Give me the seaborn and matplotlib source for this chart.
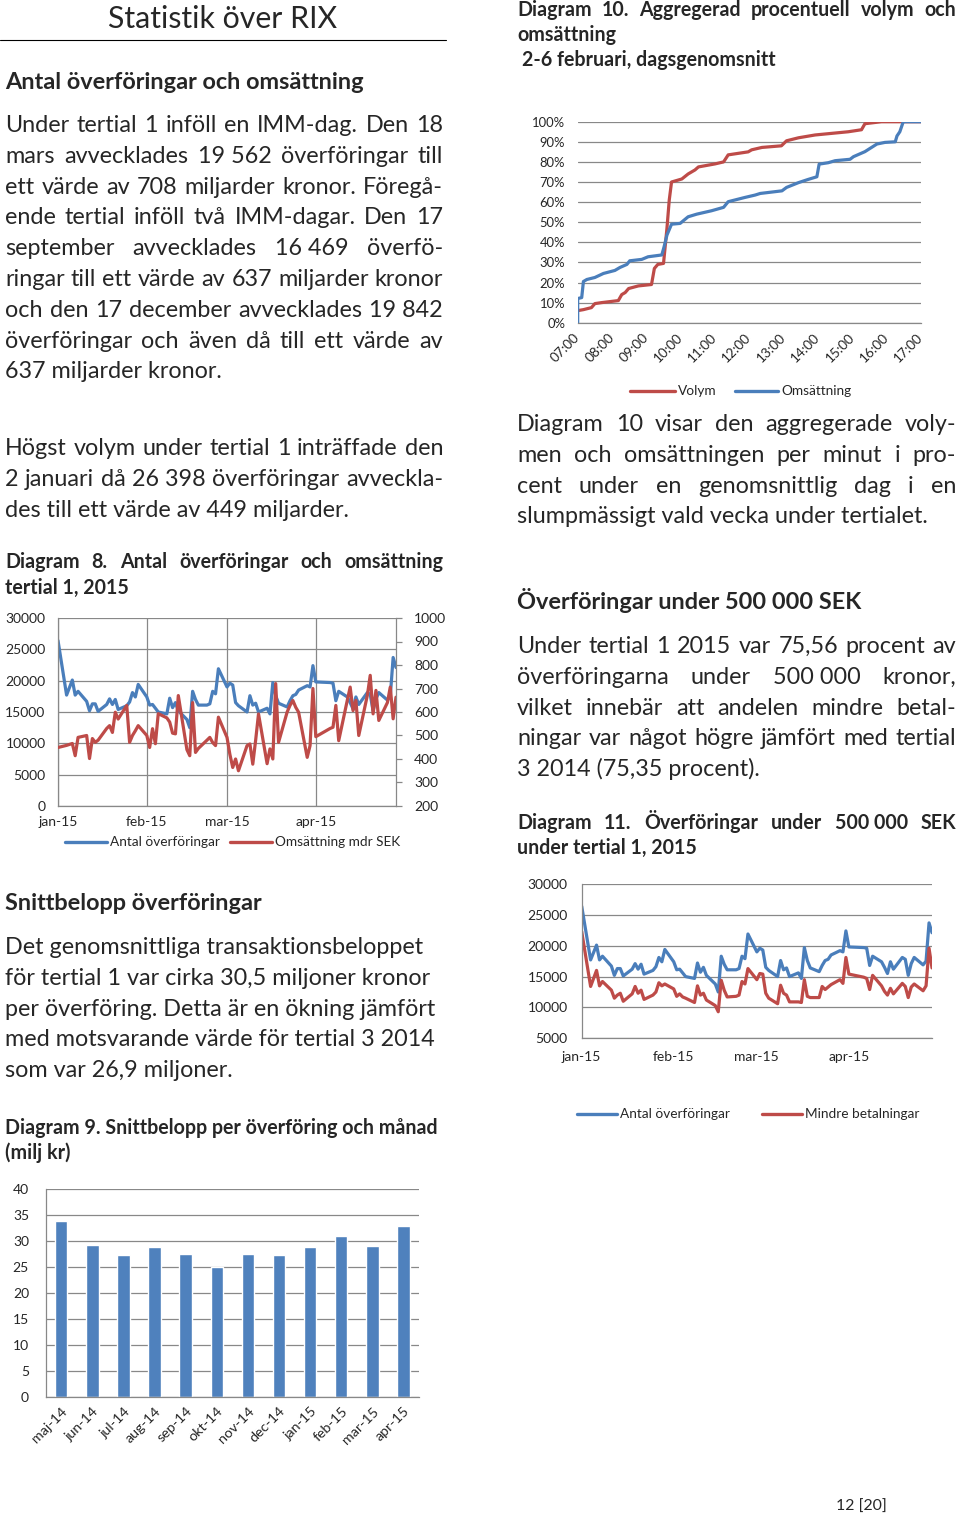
import numpy as np
import pandas as pd
import matplotlib
matplotlib.use('Agg')
import matplotlib.pyplot as plt
import seaborn as sns
from matplotlib.lines import Line2D
from matplotlib.ticker import FuncFormatter

# ---- data ----
# bankdagar jan-apr 2015 (RIX stängt 6/1, 3/4, 6/4)
dagar = pd.bdate_range('2015-01-02', '2015-04-30', freq='C',
                       holidays=['2015-01-06', '2015-04-03', '2015-04-06'])

antal = [26400, 17700, 20100, 17700, 18300, 16700, 15200, 16300, 16300, 15100,
         16200, 17100, 16200, 17000, 15400, 16000, 16600, 18100, 17400, 19400,
         17400, 16100, 16200, 15600, 15000, 14700, 17200, 15700, 16500, 15200,
         13800, 12500, 18300, 17000, 16100, 16100, 16300, 18300, 17900, 21900,
         19000, 19600, 19300, 16500, 16000, 15000, 17600, 16100, 16400, 15000,
         15600, 14700, 19700, 17600, 16400, 15800, 16800, 17600, 17800, 18500,
         19200, 19000,
         22400, 19800, 19700, 19600, 16800, 18300, 17400, 16500, 15500, 17400,
         16200, 18100, 17800, 15200, 17100, 18100, 16900, 17500, 23700, 22100]

omsattning = [449, 458, 466, 414, 492, 500, 402, 487, 471, 480,
              530, 542, 513, 599, 570, 628, 471, 500, 520, 542,
              500, 449, 529, 465, 593, 575, 557, 510, 507, 670,
              440, 414, 640, 428, 445, 480, 492, 470, 457, 578,
              492, 420, 364, 400, 350, 457, 464, 378, 480, 592,
              380, 443, 400, 721, 471, 600, 628, 649, 620, 599,
              407, 457,
              700, 495, 530, 535, 628, 478, 650, 706, 606, 649,
              500, 671, 756, 592, 692, 564, 640, 706, 571, 663]

mindre = [22300, 13400, 16000, 13500, 14200, 12800, 11500, 12000, 12300, 11000,
          12200, 13400, 12300, 12800, 11300, 12000, 12500, 14000, 13500, 13800,
          13000, 11800, 12200, 11700, 11500, 10800, 13500, 12000, 12300, 11200,
          10300, 9300, 14400, 12800, 11700, 11800, 12000, 14200, 13800, 16300,
          14500, 15500, 15400, 12300, 11500, 10600, 13600, 12300, 12000, 10900,
          10900, 10800, 14500, 11800, 11600, 11600, 13400, 12900, 13300, 13700,
          14500, 13900,
          18100, 15400, 14900, 14700, 12900, 15200, 13500, 12600, 12000, 13100,
          12200, 13900, 13400, 11600, 13300, 13800, 12700, 13500, 19600, 16400]

manader = ['maj-14', 'jun-14', 'jul-14', 'aug-14', 'sep-14', 'okt-14',
           'nov-14', 'dec-14', 'jan-15', 'feb-15', 'mar-15', 'apr-15']
snittbelopp = [33.9, 29.3, 27.3, 28.8, 27.6, 25.0, 27.6, 27.3, 28.8, 31.0, 29.1, 32.9]

# diagram 10: minuter efter 07:00 och kumulativ andel (%)
volym_min = [0, 10, 24, 30, 42, 71, 77, 83, 89, 106, 129, 134, 140, 150, 156, 160,
             164, 182, 193, 205, 211, 240, 255, 263, 298, 304, 322, 356, 365, 386,
             415, 444, 473, 496, 502, 531, 600]
volym_pct = [6, 6.5, 7.5, 9.5, 10, 11, 14, 15, 17, 18.3, 19, 27, 29, 29.5, 47, 61,
             70, 71.5, 74, 76, 77.5, 79, 80, 83.5, 85, 86, 87.2, 88, 90.5, 92,
             93.4, 94.2, 95, 96, 99, 100, 100]
oms_min = [0, 0, 7, 10, 16, 30, 45, 65, 74, 86, 91, 112, 123, 147, 151, 156, 164,
           179, 193, 208, 234, 255, 263, 292, 310, 319, 357, 365, 386, 403, 418,
           422, 438, 450, 476, 482, 502, 523, 537, 555, 558, 563, 569, 600]
oms_pct = [0, 12, 12.5, 20.5, 21.5, 22.5, 24.5, 26, 27.5, 29, 30.8, 31.5, 32.8,
           33.7, 37.8, 43.6, 49, 49.4, 52.7, 54, 55.7, 57.4, 60.2, 62.3, 63.5,
           64.3, 65.6, 67.3, 69.7, 71.3, 72.6, 78.9, 79.6, 80.6, 81.3, 82.6, 85.1,
           88.9, 89.7, 90, 92.9, 95, 100, 100]
klockslag = ['07:00', '08:00', '09:00', '10:00', '11:00', '12:00',
             '13:00', '14:00', '15:00', '16:00', '17:00']
datum_etiketter = ['jan-15', 'feb-15', 'mar-15', 'apr-15']

BLUE = '#4A7EBB'
RED = '#BE4B48'
BAR = '#4F81BD'
GRID = '#888888'

sns.set_theme(style='white')
plt.rcParams['font.family'] = ['Lato', 'DejaVu Sans']

W, H = 960, 1517
fig = plt.figure(figsize=(W / 100, H / 100), dpi=100)
fig.patch.set_facecolor('white')
rend = fig.canvas.get_renderer()


def fx(x):
    return x / W


def fy(y):
    return 1 - y / H


def box(x0, y0, x1, y1):
    return fig.add_axes([fx(x0), fy(y1), (x1 - x0) / W, (y1 - y0) / H])


def rad(x0, x1, y, text, just=True, **kw):
    # en rad text, marginaljusterad om just=True ('~' = hårt mellanslag)
    words = text.split(' ')
    if not just or len(words) == 1:
        fig.text(fx(x0), fy(y), text.replace('~', ' '), va='baseline', **kw)
        return
    arts = [fig.text(0, fy(y), w.replace('~', ' '), va='baseline', **kw) for w in words]
    ws = [a.get_window_extent(rend).width for a in arts]
    gap = (x1 - x0 - sum(ws)) / (len(words) - 1)
    x = x0
    for a, w in zip(arts, ws):
        a.set_x(fx(x))
        x += w + gap


def stycke(x0, x1, y0, step, lines, just=True, **kw):
    for i, t in enumerate(lines):
        last = i == len(lines) - 1
        rad(x0, x1, y0 + i * step, t, just=(just and not last), **kw)


def leg(x0, y, label, color, ln=42):
    fig.add_artist(Line2D([fx(x0), fx(x0 + ln)], [fy(y), fy(y)], color=color, lw=2.4,
                          transform=fig.transFigure))
    fig.text(fx(x0 + ln + 3), fy(y), label, va='center', fontsize=9.8)


BODY = 16.8
HEAD = 16.9
CAP = 14.1
TICK = 10

# ---- vänster spalt, text ----
fig.text(fx(223), fy(28.5), 'Statistik över RIX', ha='center', va='baseline', fontsize=21.8)
fig.add_artist(Line2D([0, fx(446)], [fy(39.5), fy(39.5)], color='black', lw=0.8,
                      transform=fig.transFigure))
rad(5, 443, 89, 'Antal överföringar och omsättning', just=False, fontsize=HEAD, fontweight='bold')
stycke(5, 443, 132, 30.8, [
    'Under tertial 1 inföll en IMM-dag. Den 18',
    'mars avvecklades 19~562 överföringar till',
    'ett värde av 708 miljarder kronor. Föregå-',
    'ende tertial inföll två IMM-dagar. Den 17',
    'september avvecklades 16~469 överfö-',
    'ringar till ett värde av 637 miljarder kronor',
    'och den 17 december avvecklades 19~842',
    'överföringar och även då till ett värde av',
    '637 miljarder kronor.'], fontsize=BODY)
stycke(5, 443, 455, 30.8, [
    'Högst volym under tertial 1 inträffade den',
    '2 januari då 26~398 överföringar avveckla-',
    'des till ett värde av 449 miljarder.'], fontsize=BODY)
stycke(5, 443, 568.5, 25, [
    'Diagram 8. Antal överföringar och omsättning',
    'tertial 1, 2015'], fontsize=CAP, fontweight='bold')
rad(5, 443, 909.5, 'Snittbelopp överföringar', just=False, fontsize=HEAD, fontweight='bold')
stycke(5, 443, 954, 30.8, [
    'Det genomsnittliga transaktionsbeloppet',
    'för tertial 1 var cirka 30,5 miljoner kronor',
    'per överföring. Detta är en ökning jämfört',
    'med motsvarande värde för tertial 3 2014',
    'som var 26,9 miljoner.'], just=False, fontsize=BODY)
stycke(5, 443, 1134, 25, [
    'Diagram 9. Snittbelopp per överföring och månad',
    '(milj kr)'], just=False, fontsize=CAP, fontweight='bold')

# ---- höger spalt, text ----
stycke(517, 956, 16, 25, [
    'Diagram 10. Aggregerad procentuell volym och',
    'omsättning'], fontsize=CAP, fontweight='bold')
rad(522, 956, 66, '2-6 februari, dagsgenomsnitt', just=False, fontsize=CAP, fontweight='bold')
stycke(517, 956, 431, 30.8, [
    'Diagram 10 visar den aggregerade voly-',
    'men och omsättningen per minut i pro-',
    'cent under en genomsnittlig dag i en',
    'slumpmässigt vald vecka under tertialet.'], fontsize=BODY)
rad(517, 956, 608.5, 'Överföringar under 500~000 SEK', just=False, fontsize=HEAD, fontweight='bold')
stycke(517, 956, 653, 30.8, [
    'Under tertial 1 2015 var 75,56 procent av',
    'överföringarna under 500~000 kronor,',
    'vilket innebär att andelen mindre betal-',
    'ningar var något högre jämfört med tertial',
    '3 2014 (75,35 procent).'], fontsize=BODY)
stycke(517, 956, 829, 25, [
    'Diagram 11. Överföringar under 500~000 SEK',
    'under tertial 1, 2015'], fontsize=CAP, fontweight='bold')
fig.text(fx(836), fy(1511), '12 [20]', va='baseline', fontsize=11.4)

start, slut = pd.Timestamp('2015-01-02'), pd.Timestamp('2015-04-30')
mticks = [pd.Timestamp('2015-01-02'), pd.Timestamp('2015-02-02'),
          pd.Timestamp('2015-03-02'), pd.Timestamp('2015-04-02')]


def grastil(ax, spines):
    for s in ['left', 'right', 'top', 'bottom']:
        ax.spines[s].set_visible(s in spines)
        ax.spines[s].set_color(GRID)
        ax.spines[s].set_linewidth(0.9)
    ax.set_xlabel('')
    ax.set_ylabel('')


# ---- diagram 8 ----
df8 = pd.DataFrame({'dag': dagar, 'antal': antal, 'oms': omsattning})
ax8 = box(58, 618, 396, 806)
sns.lineplot(data=df8, x='dag', y='antal', ax=ax8, color=BLUE, lw=2.3,
             estimator=None, sort=False)
ax8.set_xlim(start, slut)
ax8.set_ylim(0, 30000)
ax8.set_yticks(range(0, 30001, 5000))
ax8.set_xticks(mticks)
ax8.set_xticklabels(datum_etiketter)
ax8.grid(True, color=GRID, lw=0.9)
ax8.tick_params(axis='y', length=0, pad=9, labelsize=TICK)
ax8.tick_params(axis='x', length=0, pad=7, labelsize=TICK)
grastil(ax8, ['left', 'bottom'])
ax8r = ax8.twinx()
sns.lineplot(data=df8, x='dag', y='oms', ax=ax8r, color=RED, lw=2.3,
             estimator=None, sort=False)
ax8r.set_ylim(200, 1000)
ax8r.set_yticks(range(200, 1001, 100))
ax8r.grid(False)
ax8r.tick_params(axis='y', length=4, width=0.9, color=GRID, direction='out', pad=9, labelsize=TICK)
grastil(ax8r, ['right'])
ax8r.set_xlim(start, slut)
leg(65, 842, 'Antal överföringar', BLUE)
leg(230, 842, 'Omsättning mdr SEK', RED)

# ---- diagram 9 ----
ax9 = box(45.7, 1189.3, 419, 1396.7)
sns.barplot(x=manader, y=snittbelopp, ax=ax9, color=BAR, width=0.4, saturation=1)
ax9.set_xlim(-0.5, 11.5)
ax9.set_ylim(0, 40)
ax9.set_yticks(range(0, 41, 5))
ax9.set_axisbelow(True)
ax9.yaxis.grid(True, color=GRID, lw=0.9)
ax9.set_xticks(np.arange(-0.5, 12, 1), minor=True)
ax9.tick_params(axis='x', which='minor', length=4, width=0.9, color=GRID, direction='out')
ax9.tick_params(axis='x', which='major', length=0, pad=6, labelsize=10.3)
ax9.tick_params(axis='y', length=4, width=0.9, color=GRID, direction='out', pad=8, labelsize=TICK)
plt.setp(ax9.get_xticklabels(), rotation=45, ha='right', rotation_mode='anchor')
grastil(ax9, ['left', 'bottom'])

# ---- diagram 10 ----
ax10 = box(577.7, 121.7, 921, 322.7)
sns.lineplot(x=volym_min, y=volym_pct, ax=ax10, color=RED, lw=2.3, estimator=None, sort=False)
sns.lineplot(x=oms_min, y=oms_pct, ax=ax10, color=BLUE, lw=2.3, estimator=None, sort=False)
ax10.set_xlim(0, 600)
ax10.set_ylim(0, 100)
ax10.set_yticks(range(0, 101, 10))
ax10.yaxis.set_major_formatter(FuncFormatter(lambda v, p: '%d%%' % v))
ax10.set_xticks(range(0, 601, 60))
ax10.set_xticklabels(klockslag)
ax10.grid(True, axis='y', color=GRID, lw=0.9)
ax10.tick_params(axis='y', length=0, pad=9, labelsize=9.4)
ax10.tick_params(axis='x', length=0, pad=9, labelsize=9.8)
plt.setp(ax10.get_xticklabels(), rotation=45, ha='right', va='center', rotation_mode='anchor')
grastil(ax10, ['bottom'])
leg(630, 391, 'Volym', RED, ln=45)
leg(735, 391, 'Omsättning', BLUE, ln=43)

# ---- diagram 11 ----
df11 = pd.DataFrame({'dag': dagar, 'antal': antal, 'mindre': mindre})
ax11 = box(581.7, 884, 932, 1038.3)
sns.lineplot(data=df11, x='dag', y='antal', ax=ax11, color=BLUE, lw=2.3,
             estimator=None, sort=False)
sns.lineplot(data=df11, x='dag', y='mindre', ax=ax11, color=RED, lw=2.3,
             estimator=None, sort=False)
ax11.set_xlim(start, slut)
ax11.set_ylim(5000, 30000)
ax11.set_yticks(range(5000, 30001, 5000))
ax11.set_xticks(mticks)
ax11.set_xticklabels(datum_etiketter)
ax11.grid(True, axis='y', color=GRID, lw=0.9)
ax11.tick_params(axis='y', length=0, pad=10, labelsize=TICK)
ax11.tick_params(axis='x', length=4, width=0.9, color=GRID, direction='out', pad=5, labelsize=TICK)
grastil(ax11, ['left', 'bottom'])
leg(577, 1114, 'Antal överföringar', BLUE, ln=40)
leg(762, 1114, 'Mindre betalningar', RED, ln=40)

fig.savefig('out.png', dpi=100, facecolor='white')
